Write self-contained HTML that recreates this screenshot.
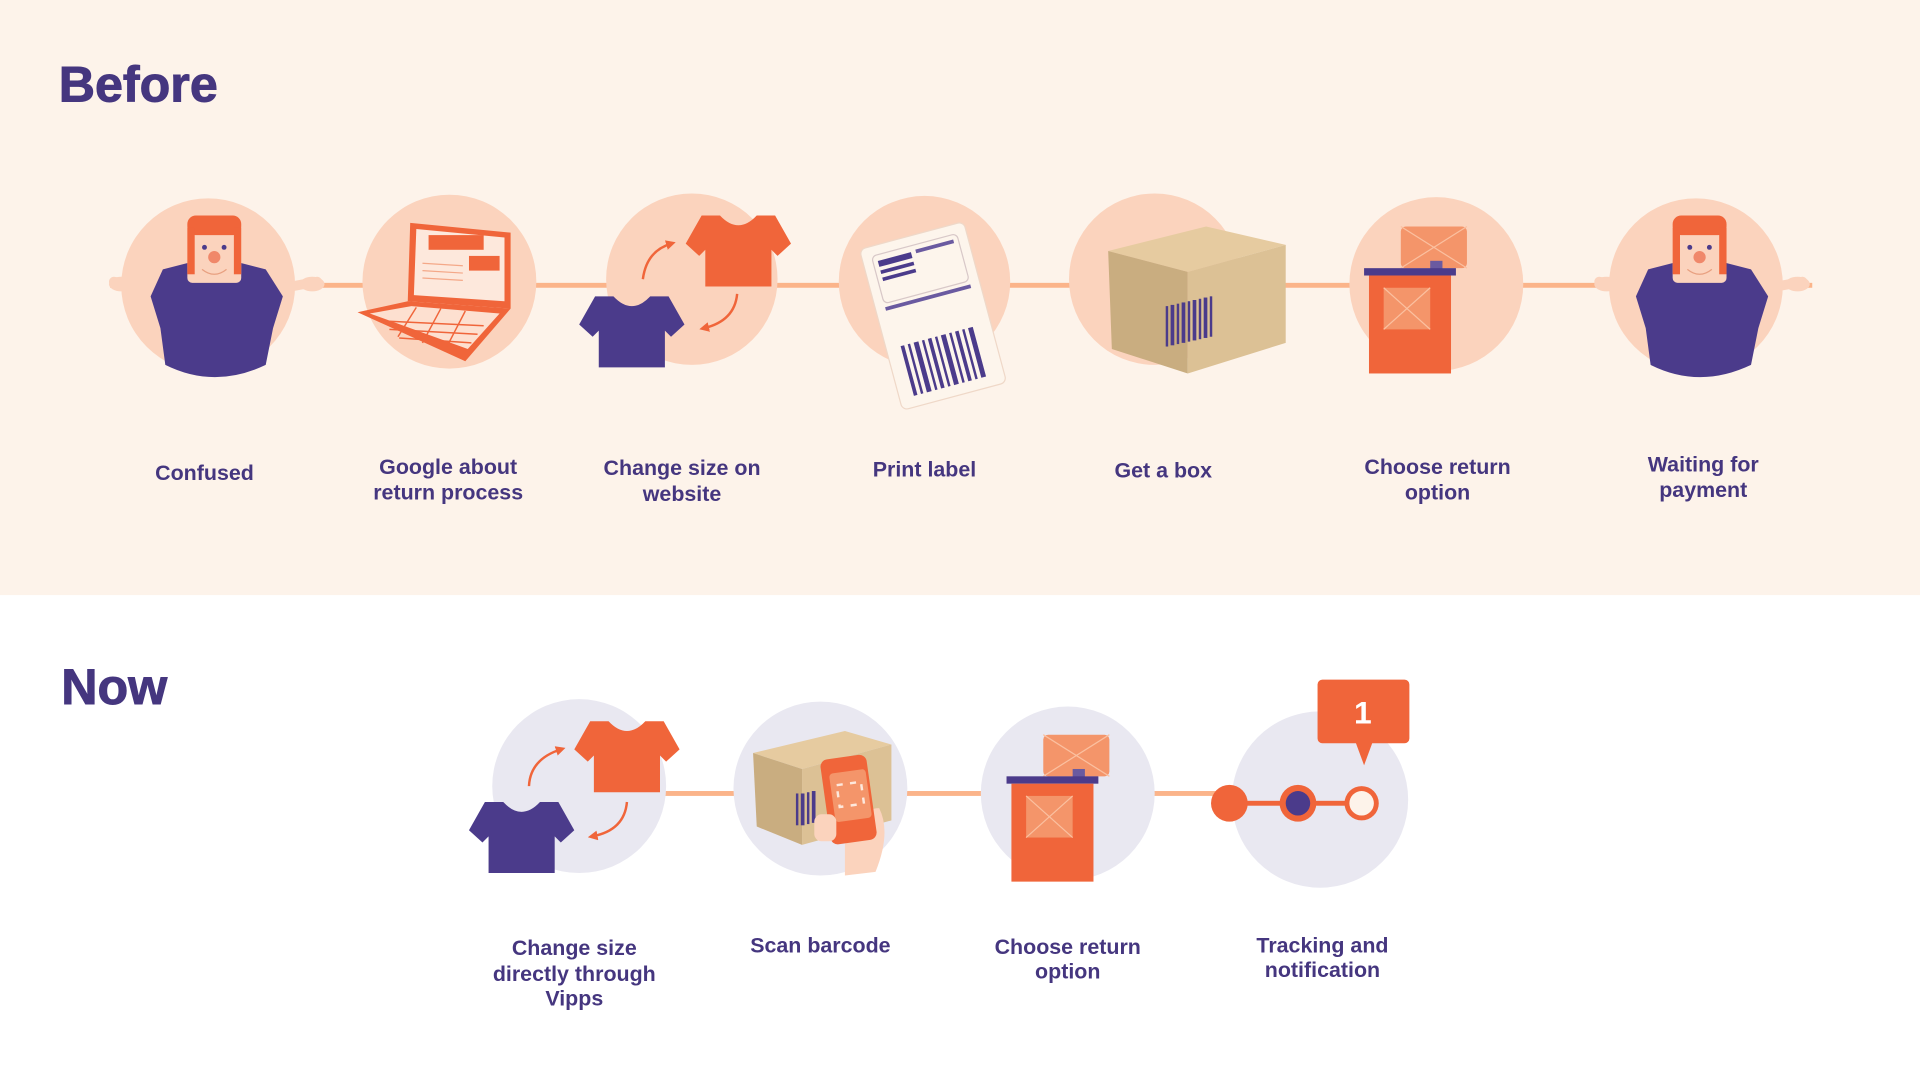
<!DOCTYPE html>
<html><head><meta charset="utf-8"><style>
html,body{margin:0;padding:0;background:#fff;}
svg{display:block}
text{font-family:"Liberation Sans",sans-serif;font-weight:bold;fill:#45367f;text-anchor:middle}
</style></head><body>
<svg width="1920" height="1080" viewBox="0 0 1568 882" preserveAspectRatio="none" xmlns="http://www.w3.org/2000/svg">
<defs>
<marker id="ah" viewBox="0 0 10 10" refX="5" refY="5" markerWidth="4" markerHeight="4" orient="auto-start-reverse"><path d="M0,0 L10,5 L0,10 Z" fill="#f0653a"/></marker>
<path id="shirt" d="M-15,-28 Q0,-12 15,-28 L30,-28 L43,-5 L32,5 L27,0 L27,30 L-27,30 L-27,0 L-32,5 L-43,-5 L-30,-28 Z"/>
<g id="person">
  <path d="M-50,-2 L-82,-8" stroke="#fbd3bd" stroke-width="8" stroke-linecap="round"/>
  <path d="M52,-2 L84,-8" stroke="#fbd3bd" stroke-width="8" stroke-linecap="round"/>
  <ellipse cx="-76" cy="-6" rx="10" ry="6" fill="#fbd3bd"/>
  <ellipse cx="80" cy="-6" rx="10" ry="6" fill="#fbd3bd"/>
  <rect x="-8" y="-12" width="16" height="16" fill="#fbd3bd"/>
  <path d="M-52,4 L-42,-18 L-15,-25 L0,-8 L15,-25 L42,-18 L56,4 L48,30 L42,60 Q0,80 -40,60 L-44,30 Z" fill="#4b3b8b"/>
  <path d="M-15,-25 L0,-8 L15,-25 Z" fill="#fbd3bd"/>
  <rect x="-22" y="-55" width="44" height="48" rx="4" fill="#fbd3bd"/>
  <rect x="-22" y="-62" width="44" height="16" rx="7" fill="#f0653a"/>
  <rect x="-22" y="-52" width="6" height="38" fill="#f0653a"/>
  <rect x="16" y="-52" width="6" height="38" fill="#f0653a"/>
  <circle cx="-8" cy="-36" r="2" fill="#4b3b8b"/><circle cx="8" cy="-36" r="2" fill="#4b3b8b"/>
  <circle cx="0" cy="-28" r="5" fill="#f0886a"/>
  <path d="M-10,-18 Q0,-10 10,-18" stroke="#e8a080" fill="none" stroke-width="1"/>
</g>
<g id="post">
  <rect x="-6" y="-48" width="54" height="34" rx="4" fill="#f4956a"/>
  <path d="M-6,-48 L48,-14 M48,-48 L-6,-14" stroke="#fbc0a0" stroke-width="1"/>
  <rect x="18" y="-20" width="10" height="7" fill="#6a5aa0"/>
  <rect x="-36" y="-14" width="75" height="6" fill="#4b3b8b"/>
  <rect x="-32" y="-8" width="67" height="80" fill="#f0653a"/>
  <rect x="-20" y="2" width="38" height="34" fill="#f4956a"/>
  <path d="M-20,2 L18,36 M18,2 L-20,36" stroke="#fbc0a0" stroke-width="1"/>
</g>
</defs>
<rect x="0" y="0" width="1568" height="486" fill="#fdf3ea"/>
<text x="48" y="83" style="font-size:41px;text-anchor:start;font-weight:bold;stroke:#45367f;stroke-width:0.8">Before</text>
<rect x="90" y="231" width="1390" height="4" fill="#fbb48a"/>
<g fill="#fbd3bd">
<circle cx="170" cy="233" r="71"/><circle cx="367" cy="230" r="71"/><circle cx="565" cy="228" r="70"/>
<circle cx="755" cy="230" r="70"/><circle cx="943" cy="228" r="70"/><circle cx="1173" cy="232" r="71"/><circle cx="1385" cy="233" r="71"/>
</g>
<use href="#person" x="175" y="238"/>
<use href="#person" x="1388" y="238"/>
<!-- laptop -->
<polygon points="335,182 417,190 417,252 333,246" fill="#f0653a"/>
<polygon points="340,187 412,194 412,246 338,241" fill="#fde8dc"/>
<rect x="350" y="192" width="45" height="12" fill="#f0653a"/>
<rect x="383" y="209" width="25" height="12" fill="#f0653a"/>
<g stroke="#f4a888" stroke-width="1"><line x1="345" y1="215" x2="378" y2="217"/><line x1="345" y1="221" x2="378" y2="223"/><line x1="345" y1="227" x2="378" y2="229"/></g>
<polygon points="292,255 333,246 417,252 380,295" fill="#f0653a"/>
<polygon points="302,256 336,250 408,256 382,285" fill="#fde0d0"/>
<g stroke="#f0653a" stroke-width="1.2"><line x1="310" y1="262" x2="395" y2="266"/><line x1="318" y1="269" x2="390" y2="273"/><line x1="326" y1="276" x2="385" y2="280"/><line x1="340" y1="251" x2="325" y2="275"/><line x1="360" y1="252" x2="345" y2="280"/><line x1="380" y1="254" x2="365" y2="283"/></g>
<!-- shirts -->
<use href="#shirt" x="603" y="204" fill="#f0653a"/>
<use href="#shirt" x="516" y="270" fill="#4b3b8b"/>
<path d="M525,228 Q528,205 548,199" stroke="#f0653a" fill="none" stroke-width="2" marker-end="url(#ah)"/>
<path d="M602,240 Q600,262 575,268" stroke="#f0653a" fill="none" stroke-width="2" marker-end="url(#ah)"/>
<!-- label -->
<g transform="rotate(-15 762 258)">
<rect x="718" y="190" width="88" height="136" rx="5" fill="#fdf5ec" stroke="#efd8c8"/>
<rect x="726" y="198" width="72" height="40" rx="4" fill="none" stroke="#d8c8c8"/>
<rect x="730" y="203" width="28" height="5" fill="#4b3b8b"/><rect x="730" y="211" width="28" height="3" fill="#4b3b8b"/><rect x="730" y="217" width="28" height="3" fill="#4b3b8b"/>
<rect x="762" y="202" width="32" height="3" fill="#6a5aa0"/>
<rect x="726" y="241" width="72" height="3" fill="#6a5aa0"/>
<g fill="#4b3b8b"><rect x="730" y="275" width="3" height="42"/><rect x="736" y="275" width="2" height="42"/><rect x="741" y="275" width="4" height="42"/><rect x="748" y="275" width="2" height="42"/><rect x="753" y="275" width="3" height="42"/><rect x="759" y="275" width="2" height="42"/><rect x="764" y="275" width="4" height="42"/><rect x="771" y="275" width="2" height="42"/><rect x="776" y="275" width="3" height="42"/><rect x="782" y="275" width="2" height="42"/><rect x="787" y="275" width="4" height="42"/></g>
</g>
<!-- box -->
<polygon points="905,205 985,185 1050,200 970,222" fill="#e6cba0"/>
<polygon points="905,205 970,222 970,305 908,285" fill="#c9ad80"/>
<polygon points="970,222 1050,200 1050,280 970,305" fill="#dcc195"/>
<g fill="#4b3b8b"><rect x="952" y="250" width="2" height="33"/><rect x="956" y="249" width="3" height="33"/><rect x="961" y="248" width="2" height="33"/><rect x="965" y="247" width="3" height="33"/><rect x="970" y="246" width="2" height="33"/><rect x="974" y="245" width="3" height="33"/><rect x="979" y="244" width="2" height="33"/><rect x="983" y="243" width="3" height="33"/><rect x="988" y="242" width="2" height="33"/></g>
<use href="#post" x="1150" y="233"/>
<g style="font-size:17.5px">
<text x="167" y="392">Confused</text>
<text x="366" y="387">Google about</text><text x="366" y="408">return process</text>
<text x="557" y="388">Change size on</text><text x="557" y="409">website</text>
<text x="755" y="389">Print label</text>
<text x="950" y="390">Get a box</text>
<text x="1174" y="387">Choose return</text><text x="1174" y="408">option</text>
<text x="1391" y="385">Waiting for</text><text x="1391" y="406">payment</text>
</g>
<!-- NOW -->
<text x="50" y="575" style="font-size:41px;text-anchor:start;stroke:#45367f;stroke-width:0.8">Now</text>
<rect x="540" y="646" width="460" height="4" fill="#fbb48a"/>
<g fill="#e9e8f1">
<circle cx="473" cy="642" r="71"/><circle cx="670" cy="644" r="71"/><circle cx="872" cy="648" r="71"/><circle cx="1078" cy="653" r="72"/>
</g>
<use href="#shirt" x="512" y="617" fill="#f0653a"/>
<use href="#shirt" x="426" y="683" fill="#4b3b8b"/>
<path d="M432,642 Q433,620 458,612" stroke="#f0653a" fill="none" stroke-width="2" marker-end="url(#ah)"/>
<path d="M512,655 Q510,678 484,683" stroke="#f0653a" fill="none" stroke-width="2" marker-end="url(#ah)"/>
<!-- box scan -->
<polygon points="615,615 690,597 728,608 655,628" fill="#e6cba0"/>
<polygon points="615,615 655,628 655,690 618,675" fill="#c9ad80"/>
<polygon points="655,628 728,608 728,670 655,690" fill="#dcc195"/>
<g fill="#4b3b8b"><rect x="650" y="648" width="2" height="26"/><rect x="654" y="648" width="3" height="26"/><rect x="659" y="647" width="2" height="26"/><rect x="663" y="646" width="3" height="26"/></g>
<path d="M690,690 Q700,660 718,660 Q728,680 715,712 L690,715 Z" fill="#fbd3bd"/>
<rect x="674" y="618" width="38" height="70" rx="6" fill="#f0653a" transform="rotate(-8 693 653)"/>
<rect x="680" y="630" width="30" height="40" rx="3" fill="#f4956a" transform="rotate(-8 693 653)"/>
<rect x="685" y="640" width="20" height="18" fill="none" stroke="#fde8dc" stroke-width="2" stroke-dasharray="5 6" transform="rotate(-8 693 653)"/>
<rect x="665" y="665" width="18" height="22" rx="6" fill="#fbd3bd"/>
<use href="#post" x="858" y="648"/>
<!-- tracking -->
<rect x="1004" y="654" width="108" height="4" fill="#f0653a"/>
<circle cx="1004" cy="656" r="15" fill="#f0653a"/>
<circle cx="1060" cy="656" r="15" fill="#f0653a"/><circle cx="1060" cy="656" r="10" fill="#4b3b8b"/>
<circle cx="1112" cy="656" r="14" fill="#f0653a"/><circle cx="1112" cy="656" r="10" fill="#fdf3ea"/>
<rect x="1076" y="555" width="75" height="52" rx="4" fill="#f0653a"/>
<polygon points="1107,606 1121,606 1114,625" fill="#f0653a"/>
<text x="1113" y="591" style="font-size:26px;fill:#fff">1</text>
<g style="font-size:17.5px">
<text x="469" y="780">Change size</text><text x="469" y="801">directly through</text><text x="469" y="821">Vipps</text>
<text x="670" y="778">Scan barcode</text>
<text x="872" y="779">Choose return</text><text x="872" y="799">option</text>
<text x="1080" y="778">Tracking and</text><text x="1080" y="798">notification</text>
</g>
</svg>
</body></html>
